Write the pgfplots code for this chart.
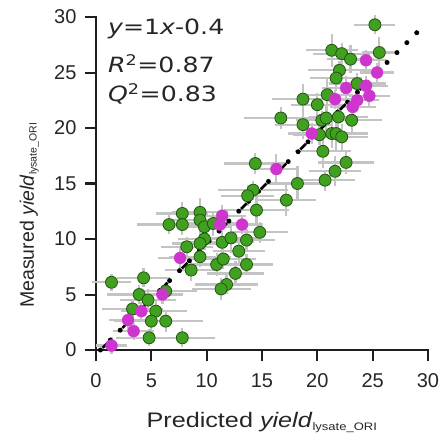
\documentclass[border=0pt]{standalone}
\usepackage{fontspec}
\setmainfont{Liberation Sans}
\newfontfamily\annfont[FakeStretch=1.2]{DejaVu Sans}
\newfontfamily\xlabfont[FakeStretch=1.2]{Liberation Sans}
\usepackage{pgfplots}
\usepackage{pgfplotstable}
\usetikzlibrary{calc}
\pgfplotsset{compat=1.18}
\definecolor{ptgreen}{RGB}{64,160,32}
\definecolor{ptgreenedge}{RGB}{35,85,15}
\definecolor{ptmag}{RGB}{206,52,206}
\definecolor{errgray}{RGB}{196,196,196}
\definecolor{axgray}{RGB}{30,30,30}

\pgfplotstableread{
x y ex ey
25.2 29.3 1.5 0.5
21.3 27.0 2.0 1.1
22.2 26.7 2.2 0.6
23.0 26.2 1.8 0.9
25.6 26.8 1.2 1.0
22.0 25.2 2.5 0.5
21.7 24.5 2.0 0.8
23.6 24.0 2.2 0.6
20.9 23.0 2.0 1.2
18.7 22.6 2.4 1.0
20.0 22.1 2.0 0.7
16.7 20.9 3.0 0.6
18.7 20.3 2.2 0.9
20.4 20.7 2.0 0.5
20.8 20.9 2.5 0.8
21.9 21.0 2.3 0.6
23.1 20.7 2.4 1.0
20.2 19.4 2.0 0.6
21.3 19.5 2.2 0.9
21.7 19.5 2.5 1.2
22.2 19.2 2.0 0.8
20.5 17.9 2.2 1.1
14.4 16.8 2.5 0.6
22.6 16.9 2.2 0.7
21.6 16.1 2.0 1.0
20.7 15.3 2.3 0.6
18.2 15.0 2.4 1.2
14.2 14.4 2.8 0.5
13.7 13.9 2.0 0.6
17.2 13.5 2.3 1.1
14.5 12.6 2.6 0.8
7.8 12.3 2.0 0.7
9.4 12.4 2.2 0.9
6.6 11.3 2.5 0.5
7.8 11.3 2.0 0.6
9.4 11.7 2.2 0.7
9.8 11.1 2.0 0.5
10.6 11.4 2.3 0.8
14.8 10.6 2.2 0.6
9.8 10.0 2.0 0.6
9.4 9.6 2.2 0.9
8.2 9.3 2.0 0.5
11.4 9.7 2.5 0.7
12.2 10.1 2.3 1.0
13.6 9.9 2.2 0.6
12.9 8.9 2.0 0.8
9.4 8.4 2.4 0.6
10.9 7.7 2.0 0.7
11.5 8.2 2.6 0.5
13.6 7.7 2.0 0.6
12.6 6.9 2.2 0.8
8.6 7.2 2.0 0.6
11.8 5.9 2.5 0.5
11.3 5.5 2.3 0.6
4.3 6.5 2.0 0.5
1.4 6.1 1.4 0.4
3.9 5.0 2.5 0.5
4.7 4.5 2.2 0.6
6.3 5.3 2.5 0.5
3.3 3.7 2.4 0.5
5.4 3.5 2.5 0.6
5.0 2.6 3.0 0.5
6.3 2.6 3.0 0.6
4.8 1.1 2.6 0.4
7.8 1.1 2.6 0.5
}\greendata

\pgfplotstableread{
x y ex ey
24.4 26.1 1.5 0.6
25.4 25.0 1.2 0.5
22.6 23.6 1.8 0.7
24.4 23.8 1.6 0.5
24.7 22.9 1.5 0.6
21.6 22.6 1.8 0.5
23.6 22.5 1.6 0.6
23.2 21.9 1.7 0.5
19.5 19.5 1.8 0.6
16.3 16.3 1.5 1.0
11.4 12.1 1.8 0.6
11.2 11.3 1.6 0.5
13.2 11.3 1.5 0.5
7.6 8.3 1.6 0.6
6.0 5.0 1.5 0.5
4.1 3.5 1.5 0.5
2.9 2.7 1.4 0.5
3.4 1.7 1.5 0.4
1.4 0.4 1.0 0.4
}\magdata

\pgfplotsset{
  common/.style={
    scale only axis,
    width=332bp, height=333bp,
    xmin=0, xmax=30, ymin=0, ymax=30,
    clip=false,
  }
}

\begin{document}
\begin{tikzpicture}
% axis frame, ticks and labels
\begin{axis}[
  common,
  name=ax,
  axis lines=left,
  axis line style={-, line width=2bp, axgray},
  xtick={0,5,...,30}, ytick={0,5,...,30},
  tick align=outside,
  major tick length=11bp,
  tick style={line width=2bp, axgray},
  /pgf/number format/assume math mode=true,
  ticklabel style={font=\fontsize{20bp}{23bp}\selectfont, text=black!85},
  xticklabel shift=9bp,
  yticklabel shift=5bp,
  xlabel={\xlabfont Predicted \textit{yield}{\fontsize{15.5bp}{18bp}\selectfont\textsubscript{lysate\_ORI}}},
  ylabel={Measured \textit{yield}{\fontsize{15bp}{18bp}\selectfont\textsubscript{lysate\_ORI}}},
  xlabel style={font=\fontsize{21bp}{25bp}\selectfont, text=black!85,
    at={(axis description cs:0.5,-0.234)}, anchor=base},
  ylabel style={font=\fontsize{19.5bp}{24bp}\selectfont, text=black!85,
    at={(axis description cs:-0.187,0.405)}, anchor=base},
]
\addplot[draw=none, mark=none, forget plot] coordinates {(0,0) (30,30)};
\end{axis}
% axis lines and ticks
\draw[line width=2bp, axgray, line cap=rect] (ax.north west) -- (ax.south west) -- (ax.south east);
\foreach \i in {0,...,6} {
  \draw[line width=2bp, axgray] ($(ax.south west)!\i/6!(ax.south east)$) -- ++(0,-11bp);
  \draw[line width=2bp, axgray] ($(ax.south west)!\i/6!(ax.north west)$) -- ++(-11bp,0);
}
% data
\begin{axis}[common, axis lines=none]
% error bars
\addplot[draw=none, mark=none, forget plot,
  error bars/.cd, x dir=both, x explicit, y dir=both, y explicit,
  error bar style={draw=errgray, line width=2.2bp},
  error mark options={draw=errgray, line width=2.2bp, mark size=4bp}]
  table[x=x, y=y, x error=ex, y error=ey] {\greendata};
\addplot[draw=none, mark=none, forget plot,
  error bars/.cd, x dir=both, x explicit, y dir=both, y explicit,
  error bar style={draw=errgray, line width=2.2bp},
  error mark options={draw=errgray, line width=2.2bp, mark size=4bp}]
  table[x=x, y=y, x error=ex, y error=ey] {\magdata};
% points
\addplot[only marks, mark=*, mark size=6bp,
  mark options={fill=ptgreen, draw=ptgreenedge, line width=0.8bp}]
  table[x=x, y=y] {\greendata};
\addplot[only marks, mark=*, mark size=6bp,
  mark options={fill=ptmag, draw=ptmag, line width=0.3bp}]
  table[x=x, y=y] {\magdata};
% fit line y = 1x - 0.4 (dashed part)
\addplot[black, line width=2.6bp, dash pattern=on 8bp off 20bp]
  coordinates {(0.6,0.2) (25.6,25.2)};
% dotted diagonal
\addplot[black, line width=5bp, line cap=round, dash pattern=on 0pt off 14bp]
  coordinates {(0.4,0) (29.6,29.2)};
\node[anchor=base west, inner sep=0pt, font=\annfont\fontsize{21bp}{24bp}\selectfont, text=black!85]
  at (axis description cs:0.036,0.946) {{\itshape y}=1{\itshape x}-0.4};
\node[anchor=base west, inner sep=0pt, font=\annfont\fontsize{21bp}{24bp}\selectfont, text=black!85]
  at (axis description cs:0.036,0.832) {{\itshape R}\textsuperscript{2}=0.87};
\node[anchor=base west, inner sep=0pt, font=\annfont\fontsize{21bp}{24bp}\selectfont, text=black!85]
  at (axis description cs:0.036,0.745) {{\itshape Q}\textsuperscript{2}=0.83};
\end{axis}
\pgfresetboundingbox
\path[use as bounding box] (ax.south west) ++(-96bp,-90bp) rectangle ++(444bp,440bp);
\end{tikzpicture}
\end{document}
